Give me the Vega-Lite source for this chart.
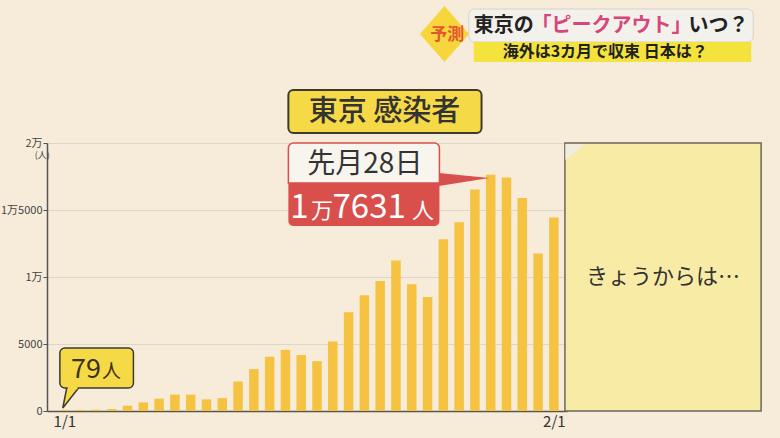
{
  "$schema": "https://vega.github.io/schema/vega-lite/v6.json",
  "width": 520,
  "height": 268,
  "autosize": {"type": "none"},
  "padding": {"left": 47, "top": 143, "right": 213, "bottom": 27},
  "background": "#f6ecd9",
  "config": {
    "view": {"stroke": null},
    "font": "Noto Sans CJK JP",
    "text": {"font": "Noto Sans CJK JP"}
  },
  "datasets": {
    "bars": [
      {"date": "2022-01-01", "cases": 79},
      {"date": "2022-01-02", "cases": 84},
      {"date": "2022-01-03", "cases": 103},
      {"date": "2022-01-04", "cases": 151},
      {"date": "2022-01-05", "cases": 390},
      {"date": "2022-01-06", "cases": 641},
      {"date": "2022-01-07", "cases": 922},
      {"date": "2022-01-08", "cases": 1224},
      {"date": "2022-01-09", "cases": 1223},
      {"date": "2022-01-10", "cases": 871},
      {"date": "2022-01-11", "cases": 962},
      {"date": "2022-01-12", "cases": 2198},
      {"date": "2022-01-13", "cases": 3124},
      {"date": "2022-01-14", "cases": 4051},
      {"date": "2022-01-15", "cases": 4561},
      {"date": "2022-01-16", "cases": 4172},
      {"date": "2022-01-17", "cases": 3719},
      {"date": "2022-01-18", "cases": 5185},
      {"date": "2022-01-19", "cases": 7377},
      {"date": "2022-01-20", "cases": 8638},
      {"date": "2022-01-21", "cases": 9699},
      {"date": "2022-01-22", "cases": 11227},
      {"date": "2022-01-23", "cases": 9468},
      {"date": "2022-01-24", "cases": 8503},
      {"date": "2022-01-25", "cases": 12813},
      {"date": "2022-01-26", "cases": 14086},
      {"date": "2022-01-27", "cases": 16538},
      {"date": "2022-01-28", "cases": 17631},
      {"date": "2022-01-29", "cases": 17433},
      {"date": "2022-01-30", "cases": 15895},
      {"date": "2022-01-31", "cases": 11751},
      {"date": "2022-02-01", "cases": 14445}
    ],
    "note": [{"x": "2022-02-01T16:48:00Z", "x2": "2022-02-14T02:58:00Z", "y": 0, "y2": 20000}],
    "noteCurl": [
      {"x": "2022-02-01T17:30:00Z", "y": 19926, "y2": 18732},
      {"x": "2022-02-02T22:34:00Z", "y": 19926, "y2": 19926}
    ],
    "noteText": [{"x": "2022-02-07T21:50:00Z", "y": 10000, "t": "きょうからは…"}],
    "titleBox": [{"x": "2022-01-15T04:28:00Z", "x2": "2022-01-27T10:05:00Z", "y": 20747, "y2": 23956}],
    "titleText": [{"x": "2022-01-21T06:29:00Z", "y": 22314, "t": "東京 感染者"}],
    "ptr79": [
      {"x": "2021-12-31T21:37:00Z", "y": 224, "y2": 224, "o": 2},
      {"x": "2022-01-01T03:35:00Z", "y": 1716, "y2": 597, "o": 1},
      {"x": "2022-01-01T21:28:00Z", "y": 1716, "y2": 1716, "o": 3}
    ],
    "box79": [{"x": "2021-12-31T17:09:00Z", "x2": "2022-01-05T08:57:00Z", "y": 1716, "y2": 4702}],
    "gap79": [{"x": "2022-01-01T05:04:00Z", "x2": "2022-01-01T19:58:00Z", "y": 1716}],
    "num79": [{"x": "2022-01-03T07:45:00Z", "y": 2463, "t": "79"}],
    "unit79": [{"x": "2022-01-03T09:14:00Z", "y": 2463, "t": "人"}],
    "peakWhite": [{"x": "2022-01-15T04:28:00Z", "x2": "2022-01-24T18:03:00Z", "y": 17016, "y2": 20000}],
    "peakRed": [{"x": "2022-01-15T04:28:00Z", "x2": "2022-01-24T18:03:00Z", "y": 13807, "y2": 17016}],
    "peakPtr": [
      {"x": "2022-01-24T17:00:00Z", "y": 17762, "y2": 16792},
      {"x": "2022-01-27T22:05:00Z", "y": 17389, "y2": 17389}
    ],
    "peakDate": [{"x": "2022-01-20T00:43:00Z", "y": 18359, "t": "先月28日"}],
    "peakBig": [
      {"x": "2022-01-15T07:28:00Z", "y": 14404, "t": "1"},
      {"x": "2022-01-17T23:32:00Z", "y": 14404, "t": "7631"}
    ],
    "peakSmall": [
      {"x": "2022-01-16T14:45:00Z", "y": 14404, "t": "万"},
      {"x": "2022-01-23T00:17:00Z", "y": 14404, "t": "人"}
    ],
    "unitLabel": [{"x": "2021-12-30T14:18:00Z", "y": 19105, "t": "(人)"}],
    "hdrBox": [{"x": "2022-01-26T14:40:00Z", "x2": "2022-02-13T15:07:00Z", "y": 27538, "y2": 30001}],
    "hdrBar": [{"x": "2022-01-26T22:19:00Z", "x2": "2022-02-13T12:00:00Z", "y": 26046, "y2": 27538}],
    "hdrDark": [
      {"x": "2022-01-26T22:19:00Z", "y": 28733, "t": "東京の"},
      {"x": "2022-02-09T12:43:00Z", "y": 28733, "t": "いつ？"}
    ],
    "hdrPink": [{"x": "2022-01-30T14:10:00Z", "y": 28733, "t": "「ピークアウト」"}],
    "hdrSub": [{"x": "2022-02-04T06:00:00Z", "y": 26755, "t": "海外は3カ月で収束 日本は？"}],
    "diamond": [{"x": "2022-01-25T01:41:00Z", "y": 28136}],
    "diamondText": [{"x": "2022-01-25T06:00:00Z", "y": 28061, "t": "予測"}]
  },
  "layer": [
    {
      "data": {"name": "bars"},
      "mark": {"type": "bar", "size": 9.5, "color": "#f5c242"},
      "encoding": {
        "x": {
          "field": "date", "type": "temporal",
          "scale": {
            "type": "utc", "nice": false,
            "domain": [
              {"year": 2021, "month": 12, "date": 31, "hours": 5, "minutes": 12, "utc": true},
              {"year": 2022, "month": 2, "date": 1, "hours": 12, "minutes": 21, "utc": true}
            ]
          },
          "axis": {
            "title": null,
            "values": [
              {"year": 2022, "month": 1, "date": 1, "utc": true},
              {"year": 2022, "month": 2, "date": 1, "utc": true}
            ],
            "format": "%-m/%-d",
            "ticks": false,
            "grid": false,
            "domainColor": "#555",
            "domainWidth": 1.5,
            "labelFontSize": 15,
            "labelColor": "#333",
            "labelPadding": 3,
            "labelFont": "Noto Sans CJK JP"
          }
        },
        "y": {
          "field": "cases", "type": "quantitative",
          "scale": {"domain": [0, 20000], "nice": false},
          "axis": {
            "title": null,
            "values": [0, 5000, 10000, 15000, 20000],
            "labelExpr": "datum.value == 20000 ? '2万' : datum.value == 15000 ? '1万5000' : datum.value == 10000 ? '1万' : datum.value == 5000 ? '5000' : '0'",
            "grid": true,
            "gridColor": "#dcd6cb",
            "gridWidth": 1,
            "domainColor": "#555",
            "domainWidth": 1.5,
            "tickColor": "#555",
            "tickSize": 4,
            "labelFontSize": 11,
            "labelColor": "#444",
            "labelPadding": 1,
            "labelFont": "Noto Sans CJK JP"
          }
        }
      }
    },
    {
      "data": {"name": "note"},
      "mark": {"type": "rect", "fill": "#f8eba6", "stroke": "#6b665a", "strokeWidth": 1.5, "clip": false},
      "encoding": {
        "x": {"field": "x", "type": "temporal"},
        "x2": {"field": "x2"},
        "y": {"field": "y", "type": "quantitative"},
        "y2": {"field": "y2"}
      }
    },
    {
      "data": {"name": "noteCurl"},
      "mark": {"type": "area", "color": "#f1ece0", "clip": false},
      "encoding": {
        "x": {"field": "x", "type": "temporal"},
        "y": {"field": "y", "type": "quantitative"},
        "y2": {"field": "y2"}
      }
    },
    {
      "data": {"name": "noteText"},
      "mark": {"type": "text", "fontSize": 22, "color": "#333", "align": "center", "baseline": "middle", "clip": false},
      "encoding": {
        "x": {"field": "x", "type": "temporal"},
        "y": {"field": "y", "type": "quantitative"},
        "text": {"field": "t"}
      }
    },
    {
      "data": {"name": "titleBox"},
      "mark": {"type": "rect", "fill": "#f6d947", "stroke": "#3d3a30", "strokeWidth": 2, "cornerRadius": 5, "clip": false},
      "encoding": {
        "x": {"field": "x", "type": "temporal"},
        "x2": {"field": "x2"},
        "y": {"field": "y", "type": "quantitative"},
        "y2": {"field": "y2"}
      }
    },
    {
      "data": {"name": "titleText"},
      "mark": {"type": "text", "fontSize": 29, "color": "#333", "align": "center", "baseline": "middle", "fontWeight": 500, "clip": false},
      "encoding": {
        "x": {"field": "x", "type": "temporal"},
        "y": {"field": "y", "type": "quantitative"},
        "text": {"field": "t"}
      }
    },
    {
      "data": {"name": "ptr79"},
      "mark": {"type": "area", "color": "#f6d947", "clip": false},
      "encoding": {
        "x": {"field": "x", "type": "temporal"},
        "y": {"field": "y", "type": "quantitative"},
        "y2": {"field": "y2"}
      }
    },
    {
      "data": {"name": "ptr79"},
      "mark": {"type": "line", "color": "#3d3a30", "strokeWidth": 1.5, "clip": false},
      "encoding": {
        "x": {"field": "x", "type": "temporal"},
        "y": {"field": "y", "type": "quantitative"},
        "order": {"field": "o", "type": "quantitative"}
      }
    },
    {
      "data": {"name": "box79"},
      "mark": {"type": "rect", "fill": "#f6d947", "stroke": "#3d3a30", "strokeWidth": 1.5, "cornerRadius": 5, "clip": false},
      "encoding": {
        "x": {"field": "x", "type": "temporal"},
        "x2": {"field": "x2"},
        "y": {"field": "y", "type": "quantitative"},
        "y2": {"field": "y2"}
      }
    },
    {
      "data": {"name": "gap79"},
      "mark": {"type": "rule", "color": "#f6d947", "strokeWidth": 2.5, "clip": false},
      "encoding": {
        "x": {"field": "x", "type": "temporal"},
        "x2": {"field": "x2"},
        "y": {"field": "y", "type": "quantitative"}
      }
    },
    {
      "data": {"name": "num79"},
      "mark": {"type": "text", "fontSize": 27, "color": "#3a3220", "align": "right", "baseline": "alphabetic", "clip": false},
      "encoding": {
        "x": {"field": "x", "type": "temporal"},
        "y": {"field": "y", "type": "quantitative"},
        "text": {"field": "t"}
      }
    },
    {
      "data": {"name": "unit79"},
      "mark": {"type": "text", "fontSize": 19, "color": "#3a3220", "align": "left", "baseline": "alphabetic", "clip": false},
      "encoding": {
        "x": {"field": "x", "type": "temporal"},
        "y": {"field": "y", "type": "quantitative"},
        "text": {"field": "t"}
      }
    },
    {
      "data": {"name": "peakPtr"},
      "mark": {"type": "area", "color": "#d94f4b", "clip": false},
      "encoding": {
        "x": {"field": "x", "type": "temporal"},
        "y": {"field": "y", "type": "quantitative"},
        "y2": {"field": "y2"}
      }
    },
    {
      "data": {"name": "peakWhite"},
      "mark": {"type": "rect", "fill": "#f8f5ee", "stroke": "#d94f4b", "strokeWidth": 1.5, "cornerRadiusTopLeft": 5, "cornerRadiusTopRight": 5, "clip": false},
      "encoding": {
        "x": {"field": "x", "type": "temporal"},
        "x2": {"field": "x2"},
        "y": {"field": "y", "type": "quantitative"},
        "y2": {"field": "y2"}
      }
    },
    {
      "data": {"name": "peakRed"},
      "mark": {"type": "rect", "fill": "#d94f4b", "cornerRadiusBottomLeft": 5, "cornerRadiusBottomRight": 5, "clip": false},
      "encoding": {
        "x": {"field": "x", "type": "temporal"},
        "x2": {"field": "x2"},
        "y": {"field": "y", "type": "quantitative"},
        "y2": {"field": "y2"}
      }
    },
    {
      "data": {"name": "peakDate"},
      "mark": {"type": "text", "fontSize": 28, "color": "#333", "align": "center", "baseline": "middle", "clip": false},
      "encoding": {
        "x": {"field": "x", "type": "temporal"},
        "y": {"field": "y", "type": "quantitative"},
        "text": {"field": "t"}
      }
    },
    {
      "data": {"name": "peakBig"},
      "mark": {"type": "text", "fontSize": 33, "color": "#ffffff", "align": "left", "baseline": "alphabetic", "clip": false},
      "encoding": {
        "x": {"field": "x", "type": "temporal"},
        "y": {"field": "y", "type": "quantitative"},
        "text": {"field": "t"}
      }
    },
    {
      "data": {"name": "peakSmall"},
      "mark": {"type": "text", "fontSize": 22, "color": "#ffffff", "align": "left", "baseline": "alphabetic", "clip": false},
      "encoding": {
        "x": {"field": "x", "type": "temporal"},
        "y": {"field": "y", "type": "quantitative"},
        "text": {"field": "t"}
      }
    },
    {
      "data": {"name": "unitLabel"},
      "mark": {"type": "text", "fontSize": 9, "color": "#444", "align": "center", "baseline": "middle", "clip": false},
      "encoding": {
        "x": {"field": "x", "type": "temporal"},
        "y": {"field": "y", "type": "quantitative"},
        "text": {"field": "t"}
      }
    },
    {
      "data": {"name": "hdrBox"},
      "mark": {"type": "rect", "fill": "#f3f1ec", "stroke": "#d6d2ca", "strokeWidth": 1, "cornerRadius": 6, "clip": false},
      "encoding": {
        "x": {"field": "x", "type": "temporal"},
        "x2": {"field": "x2"},
        "y": {"field": "y", "type": "quantitative"},
        "y2": {"field": "y2"}
      }
    },
    {
      "data": {"name": "hdrBar"},
      "mark": {"type": "rect", "fill": "#f4e33c", "clip": false},
      "encoding": {
        "x": {"field": "x", "type": "temporal"},
        "x2": {"field": "x2"},
        "y": {"field": "y", "type": "quantitative"},
        "y2": {"field": "y2"}
      }
    },
    {
      "data": {"name": "hdrDark"},
      "mark": {"type": "text", "fontSize": 20, "fontWeight": "bold", "color": "#222", "align": "left", "baseline": "middle", "clip": false},
      "encoding": {
        "x": {"field": "x", "type": "temporal"},
        "y": {"field": "y", "type": "quantitative"},
        "text": {"field": "t"}
      }
    },
    {
      "data": {"name": "hdrPink"},
      "mark": {"type": "text", "fontSize": 20, "fontWeight": "bold", "color": "#d8457a", "align": "left", "baseline": "middle", "clip": false},
      "encoding": {
        "x": {"field": "x", "type": "temporal"},
        "y": {"field": "y", "type": "quantitative"},
        "text": {"field": "t"}
      }
    },
    {
      "data": {"name": "hdrSub"},
      "mark": {"type": "text", "fontSize": 16, "fontWeight": "bold", "color": "#222", "align": "center", "baseline": "middle", "clip": false},
      "encoding": {
        "x": {"field": "x", "type": "temporal"},
        "y": {"field": "y", "type": "quantitative"},
        "text": {"field": "t"}
      }
    },
    {
      "data": {"name": "diamond"},
      "mark": {"type": "point", "shape": "M 0 -1 L 0.875 0 L 0 1 L -0.875 0 Z", "size": 3136, "filled": true, "fill": "#f7d53c", "opacity": 1, "strokeWidth": 0, "clip": false},
      "encoding": {
        "x": {"field": "x", "type": "temporal"},
        "y": {"field": "y", "type": "quantitative"}
      }
    },
    {
      "data": {"name": "diamondText"},
      "mark": {"type": "text", "fontSize": 17, "fontWeight": "bold", "color": "#e4572e", "align": "center", "baseline": "middle", "clip": false},
      "encoding": {
        "x": {"field": "x", "type": "temporal"},
        "y": {"field": "y", "type": "quantitative"},
        "text": {"field": "t"}
      }
    }
  ]
}
